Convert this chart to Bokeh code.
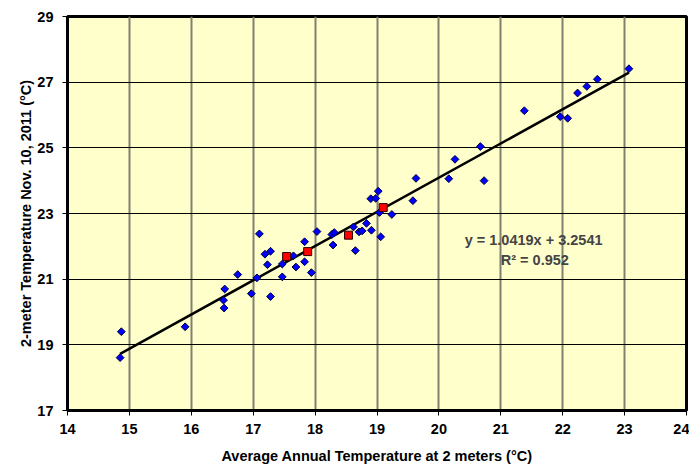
import numpy as np
from bokeh.plotting import figure
from bokeh.models import Label, FixedTicker, Range1d
from bokeh.embed import file_html
from bokeh.resources import INLINE

# Blue series: average annual temperature vs. 2-m temperature on Nov. 10, 2011
annual_temp = [14.85, 14.87, 15.90, 16.54, 16.52, 16.53, 16.75, 16.97, 17.06, 17.10,
               17.19, 17.28, 17.23, 17.28, 17.47, 17.47, 17.65, 17.69, 17.83, 17.83,
               17.94, 18.03, 18.27, 18.31, 18.29, 18.62, 18.65, 18.71, 18.76, 18.83,
               18.91, 18.90, 18.98, 19.02, 19.04, 19.06, 19.24, 19.58, 19.63, 20.16,
               20.26, 20.67, 20.73, 21.38, 21.96, 22.08, 22.24, 22.39, 22.56, 23.07]
nov10_temp = [18.61, 19.40, 19.55, 20.70, 20.36, 20.12, 21.14, 20.56, 21.04, 22.38,
              21.76, 21.85, 21.44, 20.47, 21.46, 21.07, 21.71, 21.37, 22.14, 21.53,
              21.20, 22.45, 22.36, 22.42, 22.04, 22.59, 21.87, 22.44, 22.47, 22.70,
              22.49, 23.45, 23.46, 23.68, 23.03, 22.29, 22.97, 23.39, 24.07, 24.06,
              24.65, 25.04, 24.00, 26.13, 25.95, 25.90, 26.67, 26.87, 27.09, 27.41]

# Red series
red_annual = [17.54, 17.88, 18.54, 19.10]
red_nov10 = [21.69, 21.84, 22.34, 23.18]

# Trend line coefficients
slope = 1.0419
intercept = 3.2541
r_squared = 0.952

x_ticks = list(range(14, 25))
y_ticks = [17, 19, 21, 23, 25, 27, 29]

FONT = "Liberation Sans"
FS = "14.5px"

p = figure(width=689, height=468, output_backend="svg", toolbar_location=None,
           x_range=Range1d(14, 24), y_range=Range1d(17, 29),
           min_border_left=67, min_border_right=3, min_border_top=16, min_border_bottom=58,
           background_fill_color="#FFFFCC", border_fill_color="white")

p.outline_line_color = "black"
p.outline_line_width = 3

p.xaxis.ticker = FixedTicker(ticks=x_ticks)
p.yaxis.ticker = FixedTicker(ticks=y_ticks)
for ax in (p.xaxis, p.yaxis):
    ax.axis_line_color = "black"
    ax.axis_line_width = 3
    ax.major_tick_in = 0
    ax.major_tick_out = 5
    ax.major_tick_line_color = "black"
    ax.minor_tick_line_color = None
    ax.major_label_text_font = FONT
    ax.major_label_text_font_style = "bold"
    ax.major_label_text_font_size = FS
    ax.major_label_text_color = "black"
    ax.axis_label_text_font = FONT
    ax.axis_label_text_font_style = "bold"
    ax.axis_label_text_font_size = FS
    ax.axis_label_text_color = "black"

p.xaxis.major_label_standoff = 8
p.xaxis.axis_label_standoff = 11
p.yaxis.major_label_standoff = 9
p.yaxis.axis_label_standoff = 0
p.xaxis.axis_label = "Average Annual Temperature at 2 meters (°C)"
p.yaxis.axis_label = "2-meter Temperature Nov. 10, 2011 (°C)"

p.xgrid.grid_line_color = "#808070"
p.xgrid.grid_line_width = 2
p.ygrid.grid_line_color = "black"
p.ygrid.grid_line_width = 1

# trend line
x0, x1 = min(annual_temp), max(annual_temp)
p.line([x0, x1], [slope * x0 + intercept, slope * x1 + intercept],
       line_color="black", line_width=2.5)

p.scatter(annual_temp, nov10_temp, marker="square", angle=np.pi / 4, size=5.5,
          fill_color="#0000FF", line_color="#000033", line_width=1)
p.scatter(red_annual, red_nov10, marker="square", size=8,
          fill_color="#FF0000", line_color="#330000", line_width=1)

p.add_layout(Label(x=21.53, y=22.2, text=f"y = {slope}x + {intercept}",
                   text_align="center", text_baseline="middle",
                   text_font=FONT, text_font_style="bold", text_font_size=FS))
p.add_layout(Label(x=21.55, y=21.59, text=f"R² = {r_squared}",
                   text_align="center", text_baseline="middle",
                   text_font=FONT, text_font_style="bold", text_font_size=FS))

open("out.html", "w").write(file_html(p, INLINE))
